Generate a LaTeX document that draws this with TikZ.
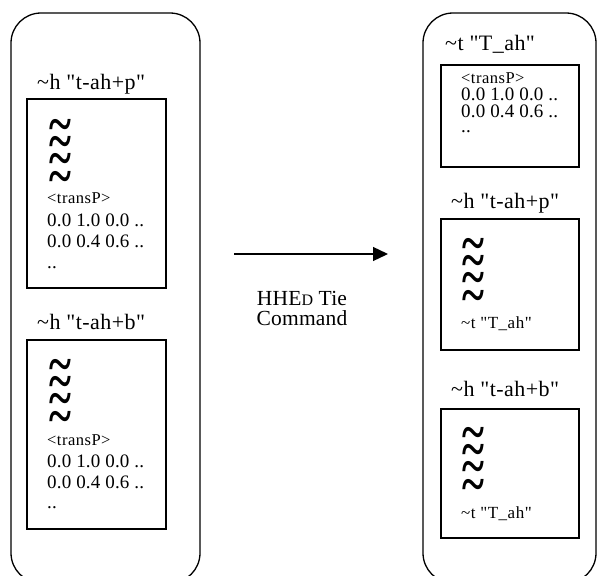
\documentclass[tikz,border=0pt]{standalone}
\usepackage{fontspec}
\usepackage{graphicx}
\setmainfont{Liberation Serif}[Ligatures=TeXOff]
\usetikzlibrary{arrows.meta}
\tikzset{
  container/.style={draw, line width=1.3pt, rounded corners=30pt},
  hmmbox/.style={draw, line width=1.3pt},
  lbl/.style={anchor=base west, inner sep=0pt, font=\fontsize{22}{24}\selectfont\addfontfeature{LetterSpace=2}},
  num/.style={anchor=base west, inner sep=0pt, font=\fontsize{19}{20}\selectfont\addfontfeature{LetterSpace=1}},
  tp/.style={anchor=base west, inner sep=0pt, font=\fontsize{16.5}{16}\selectfont\addfontfeature{LetterSpace=3}},
  tinyt/.style={anchor=base west, inner sep=0pt, font=\fontsize{17}{18}\selectfont\addfontfeature{LetterSpace=3}},
  tld/.style={anchor=center, inner sep=0pt, font=\bfseries\fontsize{42}{42}\selectfont},
  captext/.style={anchor=base, inner sep=0pt, font=\fontsize{21.5}{20}\selectfont\addfontfeature{LetterSpace=1}},
  arr/.style={-{Triangle[length=15pt,width=14pt]}, line width=1.3pt}
}
\newcommand{\tstack}[3]{% name, x center, first y center
  \foreach \k in {0,1,2,3}{
    \node[tld] (#1\k) at (#2,#3+\k*17.2) {\scalebox{1}[1.3]{\textasciitilde}};
  }}
\begin{document}
\begin{tikzpicture}[x=1pt,y=-1pt]
\useasboundingbox (0,0) rectangle (603,576);
% containers (bottom runs past the frame)
\begin{scope}
\clip (0,0) rectangle (603,576);
\draw[container] (11,13) rectangle (200,583);
\draw[container] (423,13) rectangle (596,583);
\end{scope}
% left side
\node[lbl] (lp) at (37,89) {\textasciitilde h "t-ah+p"};
\draw[hmmbox] (27,99) rectangle (166,288);
\tstack{lpt}{60}{131}
\node[tp] (lptp) at (47,203) {<transP>};
\node[num] (lpn1) at (47,226) {0.0 1.0 0.0 ..};
\node[num] (lpn2) at (47,247) {0.0 0.4 0.6 ..};
\node[num] (lpn3) at (47,268) {..};

\node[lbl] (lb) at (37,329) {\textasciitilde h "t-ah+b"};
\draw[hmmbox] (27,340) rectangle (166,529);
\tstack{lbt}{60}{371}
\node[tp] (lbtp) at (47,445) {<transP>};
\node[num] (lbn1) at (47,467) {0.0 1.0 0.0 ..};
\node[num] (lbn2) at (47,488) {0.0 0.4 0.6 ..};
\node[num] (lbn3) at (47,508) {..};

% arrow
\coordinate (as) at (234,254);
\coordinate (ae) at (388,254);
\draw[arr] (as) -- (ae);
\node[captext] (cmd1) at (302,305) {HHE{\fontsize{16}{16}\selectfont D} Tie};
\node[captext] (cmd2) at (302,325) {Command};

% right side
\node[lbl] (rt) at (445,50) {\textasciitilde t "T\_ah"};
\draw[hmmbox] (441,65) rectangle (579,167);
\node[tp] (rttp) at (461,83) {<transP>};
\node[num] (rtn1) at (461,100) {0.0 1.0 0.0 ..};
\node[num] (rtn2) at (461,117) {0.0 0.4 0.6 ..};
\node[num] (rtn3) at (461,132) {..};

\node[lbl] (rp) at (451,208) {\textasciitilde h "t-ah+p"};
\draw[hmmbox] (441,219) rectangle (579,350);
\tstack{rpt}{473}{250}
\node[tinyt] (rpr) at (461,328) {\textasciitilde t "T\_ah"};

\node[lbl] (rb) at (451,396) {\textasciitilde h "t-ah+b"};
\draw[hmmbox] (441,409) rectangle (579,538);
\tstack{rbt}{473}{439}
\node[tinyt] (rbr) at (461,518) {\textasciitilde t "T\_ah"};
\end{tikzpicture}
\end{document}
